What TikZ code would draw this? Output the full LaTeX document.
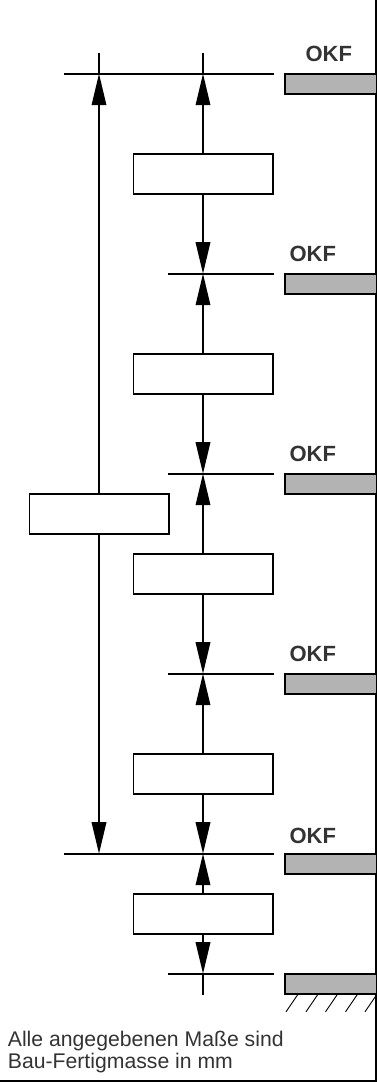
\documentclass[tikz,border=0pt]{standalone}
\usepackage{fontspec}
\setmainfont{Liberation Sans}
\usetikzlibrary{arrows.meta}
\definecolor{slab}{HTML}{B2B3B2}
\definecolor{ink}{HTML}{333333}
\tikzset{
  x=1pt,y=-1pt,
  every path/.style={line width=1.8pt},
  dimbox/.style={draw=black,fill=white,line width=1.8pt,minimum width=139.5pt,minimum height=40pt,inner sep=0pt,outer sep=0pt},
  slabbox/.style={draw=black,fill=slab,line width=1.8pt,minimum width=92pt,minimum height=20pt,inner sep=0pt,outer sep=0pt},
  okf/.style={text=ink,inner sep=0pt,anchor=base west,font=\fontsize{22}{23}\selectfont\bfseries},
  note/.style={text=ink,inner sep=0pt,anchor=base west,font=\fontsize{21.2}{22}\selectfont},
  dim/.style={-{Triangle[length=31.5pt,width=14.5pt]}},
  hatch/.style={line width=0.9pt},
}
\begin{document}
\begin{tikzpicture}
\useasboundingbox (0,0) rectangle (377,1082);
% frame
\coordinate (ftr) at (376.3,0);
\coordinate (fbr) at (376.3,1081.2);
\coordinate (fbl) at (0,1081.2);
\draw (ftr) -- (fbr) -- (fbl);
% level lines
\foreach \n/\y/\xa in {1/73.7/64, 2/273.7/168, 3/473.7/168, 4/673.7/168, 5/853.7/64, 6/973.7/168}{
  \coordinate (la\n) at (\xa,\y);
  \coordinate (lb\n) at (273.8,\y);
  \coordinate (m\n) at (203,\y);
  \draw (la\n) -- (lb\n);
}
\coordinate (o1) at (99,73.7);
\coordinate (o5) at (99,853.7);
\coordinate (topo) at (99,53);
\coordinate (topm) at (203,53);
\coordinate (botm) at (203,995);
% slabs
\foreach \n/\y in {1/83.7,2/283.7,3/483.7,4/683.7,5/863.7,6/983.7}{
  \node[slabbox] (s\n) at (331,\y) {};
}
% boxes
\node[dimbox] (b1) at (203.2,173.8) {};
\node[dimbox] (b2) at (203.2,373.8) {};
\node[dimbox] (b3) at (203.2,573.8) {};
\node[dimbox] (b4) at (203.2,773.8) {};
\node[dimbox] (b5) at (203.2,913.8) {};
\node[dimbox] (b0) at (99.2,513.8) {};
% stubs
\draw (topo) -- (o1);
\draw (topm) -- (m1);
\draw (m6) -- (botm);
% arrows
\draw[dim] (b0.north -| o1) -- (o1);
\draw[dim] (b0.south -| o5) -- (o5);
\draw[dim] (b1.north -| m1) -- (m1);
\draw[dim] (b1.south -| m2) -- (m2);
\draw[dim] (b2.north -| m2) -- (m2);
\draw[dim] (b2.south -| m3) -- (m3);
\draw[dim] (b3.north -| m3) -- (m3);
\draw[dim] (b3.south -| m4) -- (m4);
\draw[dim] (b4.north -| m4) -- (m4);
\draw[dim] (b4.south -| m5) -- (m5);
\draw[dim] (b5.north -| m5) -- (m5);
\draw[dim] (b5.south -| m6) -- (m6);
% labels
\node[okf] (t1) at (304.6,61) {OKF};
\node[okf] (t2) at (288.6,261) {OKF};
\node[okf] (t3) at (288.6,461) {OKF};
\node[okf] (t4) at (288.6,661) {OKF};
\node[okf] (t5) at (288.6,843) {OKF};
% ground hatching
\foreach \x in {286,306,325.5,345.5,365}{
  \draw[hatch] (\x,1011.8) -- (\x+12.5,993.5);
}
% note
\node[note] (n1) at (7,1046) {Alle angegebenen Maße sind};
\node[note] (n2) at (7,1068) {Bau-Fertigmasse in mm};
\end{tikzpicture}
\end{document}
